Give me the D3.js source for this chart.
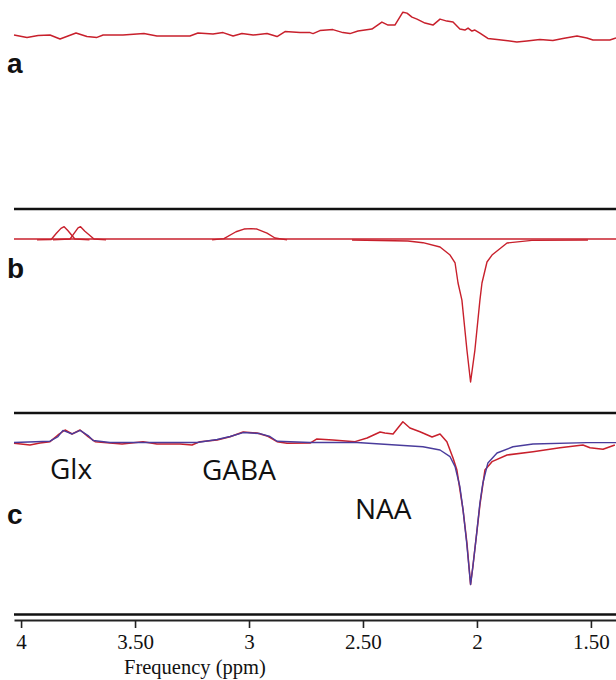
<!DOCTYPE html>
<html>
<head>
<meta charset="utf-8">
<script src="https://cdn.jsdelivr.net/npm/d3@7"></script>
<style>
  body { margin: 0; background: #fff; }
</style>
</head>
<body>
<svg width="616" height="680"></svg>
<script>
// tick values of the chemical shift axis (ppm)
var ppmTicks = [4, 3.5, 3, 2.5, 2, 1.5];

// panel a : spectrum (ppm, amplitude, NAA trough = -100)
var traceA = [[4.031,1.4],[3.974,-0.3],[3.925,1.0],[3.873,1.4],[3.829,-1.4],[3.759,2.8],[3.711,0.3],
  [3.667,-0.3],[3.640,1.4],[3.553,1.4],[3.461,2.4],[3.404,0.7],[3.259,0.7],[3.224,2.8],[3.158,2.1],
  [3.114,3.1],[3.070,0.7],[3.031,2.4],[2.982,1.4],[2.921,2.4],[2.877,0.3],[2.842,3.8],[2.776,3.1],
  [2.732,3.1],[2.719,2.4],[2.689,4.5],[2.632,5.2],[2.588,3.1],[2.557,2.4],[2.522,4.2],[2.461,5.6],
  [2.417,10.5],[2.390,8.4],[2.360,8.4],[2.325,17.5],[2.307,16.8],[2.285,14.0],[2.263,12.6],[2.228,9.8],
  [2.193,8.4],[2.162,12.6],[2.132,11.2],[2.105,10.5],[2.075,5.6],[2.053,4.9],[2.039,6.3],[2.022,4.2],
  [2.009,4.9],[1.987,2.8],[1.952,-1.0],[1.912,-1.7],[1.825,-3.5],[1.781,-2.8],[1.724,-1.7],[1.667,-2.4],
  [1.623,-1.0],[1.561,0.7],[1.518,-0.7],[1.491,-2.1],[1.417,-2.1],[1.390,-0.7]];

// panel b : fitted components
var baseB = [[4.031,0],[1.390,0]];
var glx1B = [[3.930,-0.6],[3.868,-0.3],[3.845,4.0],[3.825,7.5],[3.811,8.7],[3.795,6.0],[3.764,0],[3.700,-0.6]];
var glx2B = [[3.860,-0.6],[3.785,0],[3.765,4.5],[3.750,7.8],[3.739,8.7],[3.720,5.5],[3.680,0],[3.627,-0.6]];
var gabaB = [[3.162,-0.6],[3.110,0.3],[3.057,5.1],[3.022,7.0],[2.990,7.3],[2.965,7.0],[2.921,4.2],
  [2.886,0.7],[2.833,-0.6]];
var naaB = [[2.548,-0.7],[2.303,-1.4],[2.237,-2.6],[2.162,-5.6],[2.118,-11.3],[2.096,-16.9],[2.083,-31.0],
  [2.066,-43.0],[2.044,-78.2],[2.028,-100.7],[2.009,-78.2],[1.987,-43.0],[1.978,-31.0],[1.956,-16.2],
  [1.934,-11.3],[1.868,-2.8],[1.759,-1.0],[1.513,-0.7]];

// panel c : data (red) and model (blue)
var dataC = [[4.031,-0.6],[3.961,-1.8],[3.917,-0.4],[3.873,0.6],[3.838,5.3],[3.807,8.8],[3.776,6.0],
  [3.741,8.8],[3.706,4.1],[3.675,0.6],[3.610,-0.4],[3.557,-1.1],[3.465,0.6],[3.404,-1.1],[3.303,-1.1],
  [3.250,-1.8],[3.215,0.6],[3.140,1.8],[3.083,4.1],[3.026,7.4],[2.965,6.7],[2.921,4.6],[2.877,0.6],
  [2.833,-0.6],[2.732,-0.4],[2.702,2.5],[2.632,1.8],[2.535,0.6],[2.482,3.2],[2.425,7.4],[2.404,6.7],
  [2.368,6.0],[2.325,14.6],[2.294,10.2],[2.250,7.6],[2.197,3.9],[2.162,6.0],[2.132,0.6],[2.105,-10.9],
  [2.088,-19.4],[2.061,-47.5],[2.044,-70.8],[2.028,-100],[2.018,-87.5],[2.001,-63.7],[1.987,-44],
  [1.965,-19.4],[1.934,-13.5],[1.868,-8.8],[1.754,-6.5],[1.636,-3.7],[1.535,-1.8],[1.504,-3.7],
  [1.447,-4.8],[1.395,-1.8]];
var modelC = [[4.031,0],[3.873,0.9],[3.838,4.2],[3.816,8.5],[3.776,6.0],[3.741,8.5],[3.706,4.9],
  [3.684,1.4],[3.610,0],[3.228,0],[3.140,2.1],[3.083,4.2],[3.026,7.0],[2.952,6.3],[2.908,4.2],
  [2.877,0.9],[2.732,0],[2.526,0],[2.237,-3.0],[2.162,-5.3],[2.118,-10],[2.096,-17],[2.075,-31],
  [2.061,-47.5],[2.045,-70.8],[2.028,-100],[2.018,-87.5],[2.001,-63.7],[1.987,-42.6],[1.974,-28.5],
  [1.952,-14.4],[1.912,-7.4],[1.842,-3.0],[1.754,-1.1],[1.518,-0.1],[1.390,-0.1]];

var peakNames = ["Glx", "GABA", "NAA"];
var peakAnchors = [[3.873,-25.7],[3.206,-26.4],[2.535,-54]];  // ppm, amplitude
var panelNames = ["a", "b", "c"];

var svg = d3.select("svg"),
    width = +svg.attr("width"),
    height = +svg.attr("height");

var red = "#c8202c", blue = "#4a3c9c";

var x = d3.scaleLinear().domain([4.031, 1.390]).range([14, 616]);

// one amplitude scale per panel, same gain
function yPanel(zero) {
  return d3.scaleLinear().domain([0, 100]).range([zero, zero - 142]);
}
var yA = yPanel(37), yB = yPanel(239), yC = yPanel(442.5);

function drawLine(data, y, color, w) {
  var line = d3.line().x(function (d) {return x(d[0]);}).y(function (d) {return y(d[1]);});
  svg.append("path")
    .datum(data)
    .attr("d", line)
    .attr("fill", "none")
    .attr("stroke", color)
    .attr("stroke-width", w)
    .attr("stroke-linejoin", "round");
}

// black frame lines on top of panels b and c, and the first line of the axis
[209, 413, 614.5].forEach(function (yy) {
  svg.append("line")
    .attr("x1", x.range()[0]).attr("x2", x.range()[1])
    .attr("y1", yy).attr("y2", yy)
    .attr("stroke", "#111").attr("stroke-width", 2.6);
});

// panel a
drawLine(traceA, yA, red, 1.5);

// panel b
drawLine(baseB, yB, red, 1.4);
[glx1B, glx2B, gabaB, naaB].forEach(function (c) { drawLine(c, yB, red, 1.4); });

// panel c
drawLine(dataC, yC, red, 1.5);
drawLine(modelC, yC, blue, 1.4);

// peak labels
svg.selectAll(".peak")
  .data(peakNames)
  .enter()
  .append("text")
  .attr("class", "peak")
  .attr("x", function (d, i) {return x(peakAnchors[i][0]);})
  .attr("y", function (d, i) {return yC(peakAnchors[i][1]);})
  .attr("font-family", "Open Sans")
  .attr("font-size", 28)
  .attr("fill", "#111")
  .text(function (d) {return d;});

// panel letters
var letterY = [73, 278, 524];
svg.selectAll(".panel")
  .data(panelNames)
  .enter()
  .append("text")
  .attr("class", "panel")
  .attr("x", 7)
  .attr("y", function (d, i) {return letterY[i];})
  .attr("font-family", "Liberation Sans")
  .attr("font-weight", "bold")
  .attr("font-size", 28)
  .attr("fill", "#111")
  .text(function (d) {return d;});

// frequency axis
var xAxis = d3.axisBottom(x)
  .tickValues(ppmTicks)
  .tickSize(8)
  .tickSizeOuter(0)
  .tickPadding(6)
  .tickFormat(function (d) {return d % 1 ? d.toFixed(2) : d3.format("d")(d);});

var gx = svg.append("g")
  .attr("transform", "translate(0,620)")
  .call(xAxis)
  .attr("font-family", "Liberation Serif")
  .attr("font-size", 21);
gx.select(".domain").attr("stroke", "#222").attr("stroke-width", 2);
gx.selectAll(".tick line").attr("stroke", "#222").attr("stroke-width", 1.6);
gx.selectAll(".tick text").attr("fill", "#111");

svg.append("text")
  .attr("x", 124)
  .attr("y", 674)
  .attr("font-family", "Liberation Serif")
  .attr("font-size", 20.5)
  .attr("fill", "#111")
  .text("Frequency (ppm)");
</script>
</body>
</html>
